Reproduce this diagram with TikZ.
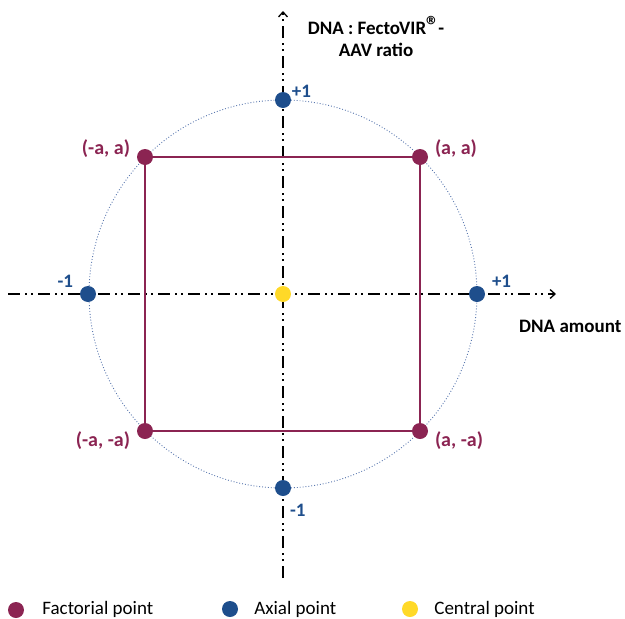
\documentclass[tikz,border=0pt]{standalone}
\usepackage{fontspec}
\setmainfont{Carlito}
\usetikzlibrary{positioning,arrows.meta}
\definecolor{factcol}{RGB}{139,36,82}
\definecolor{axcol}{RGB}{30,78,140}
\definecolor{cencol}{RGB}{255,217,40}
\definecolor{ringcol}{RGB}{90,120,175}

\begin{document}
\begin{tikzpicture}[x=1pt, y=-1pt, node distance = 2pt,
    factorial/.style = {circle, fill=factcol, inner sep=0pt, minimum size=16pt},
    axial/.style = {circle, fill=axcol, inner sep=0pt, minimum size=16pt},
    central/.style = {circle, fill=cencol, inner sep=0pt, minimum size=16pt},
    flab/.style = {text=factcol, font=\fontsize{20}{22}\selectfont\bfseries, inner sep=1pt},
    alab/.style = {text=axcol, font=\fontsize{19}{21}\selectfont\bfseries, inner sep=1pt},
    tlab/.style = {font=\fontsize{19}{22}\selectfont\bfseries, align=center, inner sep=0pt},
    leg/.style = {font=\fontsize{19}{21}\selectfont, anchor=west, inner sep=0pt},
    axis/.style = {line width=1.3pt, dash pattern=on 12pt off 5pt on 2pt off 4pt on 2pt off 5pt, -{Straight Barb[length=5pt,width=9pt]}}]
    \useasboundingbox (0,0) rectangle (625,619);

    \coordinate (o) at (283,294);
    \coordinate (xl) at (8,294);
    \coordinate (xr) at (556,294);
    \coordinate (yb) at (283,578);
    \coordinate (yt) at (283,11);

    % axes and ring
    \draw[axis] (xl) -- (xr);
    \draw[axis] (yb) -- (yt);
    \draw[ringcol, line width=0.9pt, dotted] (o) circle[radius=194];

    % factorial points
    \node[factorial] (nw) at (145,157) {};
    \node[factorial] (ne) at (420,157) {};
    \node[factorial] (sw) at (145,431) {};
    \node[factorial] (se) at (420,431) {};
    \draw[factcol, line width=2.4pt] (nw.center) -- (ne.center) -- (se.center) -- (sw.center) -- cycle;

    % axial and central points
    \node[axial] (top) at (283,100) {};
    \node[axial] (bot) at (283,488) {};
    \node[axial] (lft) at (88,294) {};
    \node[axial] (rgt) at (477,294) {};
    \node[central] (c) at (o) {};

    \node[flab, above left=-8pt and 8pt of nw] {(-a, a)};
    \node[flab, above right=-8pt and 8pt of ne] {(a, a)};
    \node[flab, below left=-6pt and 8pt of sw] {(-a, -a)};
    \node[flab, below right=-6pt and 8pt of se] {(a, -a)};
    \node[alab, above right=-4pt and 2pt of top] {+1};
    \node[alab, below right=9pt and 0pt of bot] {-1};
    \node[alab, above left=0pt and 8pt of lft] {-1};
    \node[alab, above right=0pt and 8pt of rgt] {+1};

    \node[tlab] (ylab) at (376,36) {DNA : FectoVIR{\fontsize{26}{26}\selectfont ®}\kern-1pt-\\AAV ratio};
    \node[tlab, anchor=west] (xlab) at (519,326) {DNA amount};

    % legend
    \node[factorial] (lf) at (16,610) {};
    \node[leg, right=18pt of lf, yshift=1pt] {Factorial point};
    \node[axial] (la) at (230,609) {};
    \node[leg, right=16pt of la] {Axial point};
    \node[central] (lc) at (410,609) {};
    \node[leg, right=16pt of lc] {Central point};
\end{tikzpicture}
\end{document}
